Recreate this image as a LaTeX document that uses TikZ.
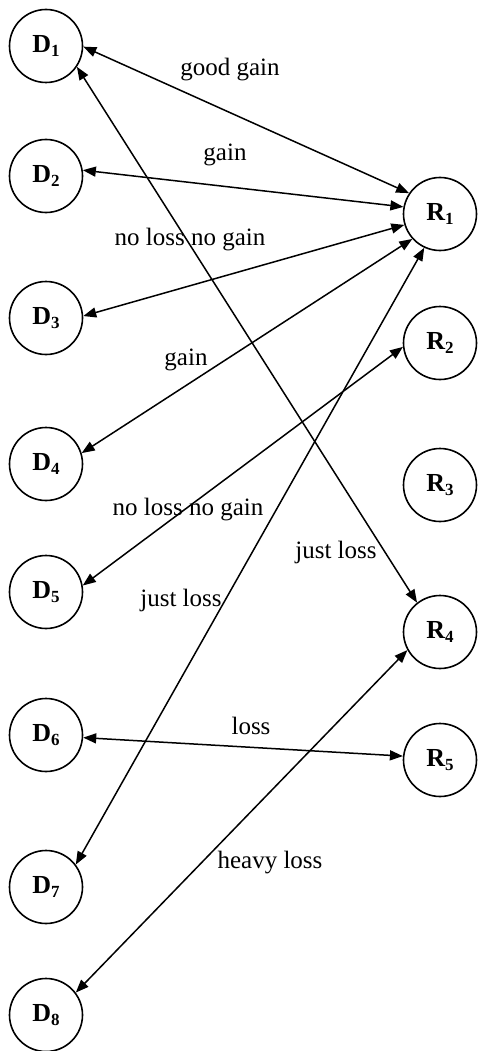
\documentclass[tikz,border=0pt]{standalone}
\usepackage{fontspec}
\setmainfont{Liberation Serif}
\usetikzlibrary{arrows.meta}
\tikzset{
  state/.style={circle, draw, line width=1.6pt, minimum size=73pt, inner sep=0pt},
  biarrow/.style={line width=1.5pt, arrows={Triangle[length=13pt,width=10pt]-Triangle[length=13pt,width=10pt]}},
  lbl/.style={inner sep=1pt, font=\fontsize{25}{25}\selectfont}
}
\newcommand{\nm}[2]{\fontsize{26}{26}\selectfont\bfseries #1\raisebox{-3.5pt}{\fontsize{17}{17}\selectfont #2}}
\begin{document}
\begin{tikzpicture}[x=1pt,y=-1pt]
\useasboundingbox (0,0) rectangle (478,1051);
\node[state] (D1) at (46,46)   {\nm{D}{1}};
\node[state] (D2) at (46,176)  {\nm{D}{2}};
\node[state] (D3) at (46,318)  {\nm{D}{3}};
\node[state] (D4) at (46,464)  {\nm{D}{4}};
\node[state] (D5) at (46,592)  {\nm{D}{5}};
\node[state] (D6) at (46,735)  {\nm{D}{6}};
\node[state] (D7) at (46,887)  {\nm{D}{7}};
\node[state] (D8) at (46,1015) {\nm{D}{8}};
\node[state] (R1) at (440,214) {\nm{R}{1}};
\node[state] (R2) at (440,343) {\nm{R}{2}};
\node[state] (R3) at (440,485) {\nm{R}{3}};
\node[state] (R4) at (440,632) {\nm{R}{4}};
\node[state] (R5) at (440,760) {\nm{R}{5}};

\draw[biarrow] (D1.-1) -- (R1.146);
\draw[biarrow] (D2.9) -- (R1.169);
\draw[biarrow] (D3.3) -- (R1.197);
\draw[biarrow] (D4.17) -- (R1.222);
\draw[biarrow] (D7.37) -- (R1.245);
\draw[biarrow] (D5.10) -- (R2.186);
\draw[biarrow] (D1.-34) -- (R4.128);
\draw[biarrow] (D6.-4) -- (R5.174);
\draw[biarrow] (D8.37) -- (R4.209);

\node[lbl] (l1) at (230,70)  {good gain};
\node[lbl] (l2) at (225,155) {gain};
\node[lbl] (l3) at (190,240) {no loss no gain};
\node[lbl] (l4) at (186,360) {gain};
\node[lbl] (l5) at (188,510) {no loss no gain};
\node[lbl] (l6) at (336,552) {just loss};
\node[lbl] (l7) at (181,600) {just loss};
\node[lbl] (l8) at (251,726) {loss};
\node[lbl] (l9) at (270,863) {heavy loss};
\end{tikzpicture}
\end{document}
